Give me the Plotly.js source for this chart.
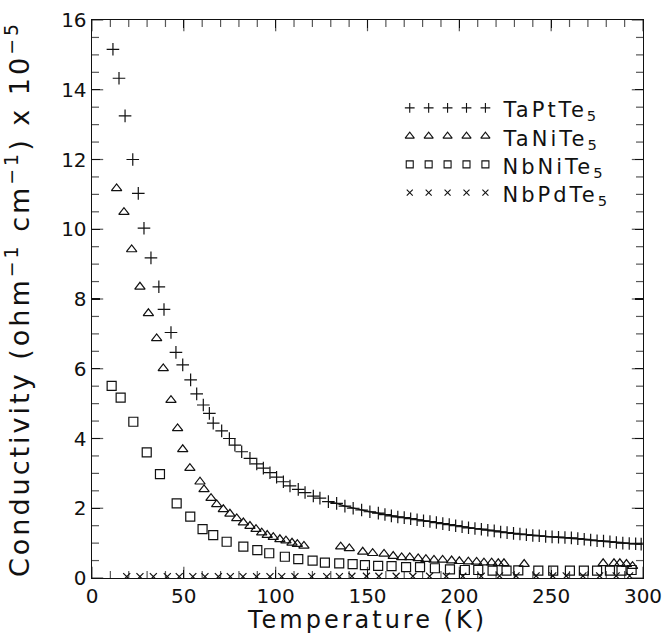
<!DOCTYPE html>
<html>
<head>
<meta charset="utf-8">
<script src="https://cdn.plot.ly/plotly-3.0.1.min.js"></script>
<style>
  html, body { margin: 0; padding: 0; background: #fff; }
  #chart { width: 666px; height: 634px; }
  #chart .xtitle, #chart .ytitle { letter-spacing: 3px; }
  #chart .annotation-text { letter-spacing: 3px; }
</style>
</head>
<body>
<div id="chart"></div>
<script>
// ---------------- DATA ----------------
const seriesNames = ["TaPtTe<sub>5</sub>", "TaNiTe<sub>5</sub>", "NbNiTe<sub>5</sub>", "NbPdTe<sub>5</sub>"];

const taPtTe5_T = [11.4, 14.7, 18.0, 22.2, 25.2, 28.3, 32.1, 36.4, 39.2, 43.0, 45.7, 49.4, 53.7, 57.0, 60.6, 63.9, 66.0, 70.6, 74.8, 77.8,
  81.5, 86.0, 89.7, 93.3, 96.9, 100.5, 104.2, 107.8, 112.3, 116.0, 120.5, 124.1, 128.7, 133.2, 137.7, 142.2, 146.8, 151.3, 155.9,
  159.5, 163.0, 166.5, 170.0, 173.5, 177.0, 180.5, 184.0, 187.5, 191.0, 194.5, 198.0, 201.5, 205.0, 208.5, 212.0, 215.5, 219.0,
  222.5, 226.0, 229.5, 233.0, 236.5, 240.0, 243.5, 247.0, 250.5, 254.0, 257.5, 261.0, 264.5, 268.0, 271.5, 275.0, 278.5, 282.0,
  285.5, 289.0, 292.5, 296.0, 299.0];
const taPtTe5_S = [15.16, 14.33, 13.25, 12.0, 11.03, 10.03, 9.18, 8.35, 7.70, 7.04, 6.47, 6.11, 5.68, 5.28, 4.96, 4.72, 4.44, 4.22, 4.00, 3.81,
  3.62, 3.43, 3.27, 3.15, 3.02, 2.89, 2.76, 2.64, 2.54, 2.45, 2.35, 2.29, 2.19, 2.14, 2.06, 2.00, 1.95, 1.90, 1.86,
  1.82, 1.78, 1.75, 1.73, 1.70, 1.67, 1.64, 1.62, 1.59, 1.56, 1.53, 1.50, 1.47, 1.44, 1.42, 1.40, 1.37, 1.35,
  1.32, 1.30, 1.28, 1.26, 1.24, 1.22, 1.21, 1.19, 1.18, 1.17, 1.16, 1.15, 1.13, 1.11, 1.09, 1.07, 1.06, 1.04,
  1.02, 1.00, 0.99, 0.98, 0.97];

const taNiTe5_T = [13.4, 17.4, 21.6, 26.1, 30.7, 35.2, 38.8, 43.0, 46.6, 49.4, 53.3, 58.8, 61.0, 64.8, 67.9, 71.5, 75.1, 78.8, 82.4, 86.0,
  89.3, 92.4, 95.4, 98.7, 102.3, 105.6, 108.9, 111.8, 115.4, 135.4, 140.1, 147.4, 152.8, 159.0, 164.0, 168.6, 173.0, 177.6, 181.8,
  186.2, 190.9, 195.8, 200.0, 204.9, 209.4, 213.4, 217.6, 221.2, 224.3, 235.3, 278.3, 284.2, 287.4, 291.0, 294.3];
const taNiTe5_S = [11.17, 10.49, 9.42, 8.35, 7.59, 6.87, 6.01, 5.10, 4.29, 3.69, 3.15, 2.76, 2.54, 2.29, 2.11, 1.97, 1.84, 1.71, 1.59, 1.49,
  1.40, 1.30, 1.23, 1.17, 1.11, 1.07, 1.01, 0.97, 0.92, 0.90, 0.85, 0.75, 0.71, 0.69, 0.63, 0.59, 0.59, 0.56, 0.54,
  0.52, 0.52, 0.50, 0.48, 0.47, 0.46, 0.44, 0.44, 0.42, 0.42, 0.40, 0.42, 0.42, 0.42, 0.40, 0.34];

const nbNiTe5_T = [10.7, 15.6, 22.5, 29.8, 37.0, 46.1, 53.5, 60.2, 66.0, 73.3, 82.4, 90.0, 96.5, 105.0, 112.3, 120.1, 126.8, 134.6, 141.9,
  148.6, 155.8, 163.1, 171.0, 178.6, 186.7, 194.9, 203.0, 210.3, 218.1, 225.7, 232.1, 243.0, 251.1, 260.2, 267.8, 275.0, 282.0, 288.3, 293.8];
const nbNiTe5_S = [5.51, 5.17, 4.48, 3.60, 2.98, 2.14, 1.76, 1.40, 1.23, 1.04, 0.90, 0.80, 0.71, 0.61, 0.54, 0.50, 0.44, 0.42, 0.40,
  0.37, 0.35, 0.34, 0.31, 0.31, 0.28, 0.25, 0.23, 0.23, 0.21, 0.21, 0.22, 0.21, 0.21, 0.21, 0.21, 0.21, 0.21, 0.21, 0.23];

const nbPdTe5_T = [18.9, 26.1, 33.4, 41.0, 47.5, 54.9, 61.5, 68.8, 75.3, 82.2, 89.6, 96.9, 103.3, 110.5, 119.6, 127.8, 134.7, 141.5,
  149.4, 156.2, 165.6, 174.7, 183.8, 192.9, 201.9, 211.9, 221.9, 230.9, 241.8, 250.9, 258.2, 267.3, 276.4, 285.4, 292.7];
const nbPdTe5_S = [0.04, 0.04, 0.04, 0.04, 0.04, 0.04, 0.04, 0.04, 0.04, 0.04, 0.04, 0.04, 0.04, 0.04, 0.04, 0.04, 0.04, 0.05,
  0.05, 0.05, 0.05, 0.05, 0.05, 0.05, 0.05, 0.05, 0.06, 0.06, 0.06, 0.06, 0.06, 0.06, 0.06, 0.06, 0.06];

const xTickVals = [0, 50, 100, 150, 200, 250, 300];
const yTickVals = [0, 2, 4, 6, 8, 10, 12, 14, 16];
const xMinorStep = 10, yMinorStep = 0.5;

// ---------------- STYLE / LAYOUT CONSTANTS ----------------
const FONT = "DejaVu Sans, Liberation Sans, sans-serif";
const INK = "#111";
const symbols = ["cross-thin-open", "triangle-up-open", "square-open", "x-thin-open"];
const dataSizes = [9, 9, 9, 7];
const legSizes = [7, 8, 7, 6];
const X_MIN = 0, X_MAX = 300, Y_MIN = 0, Y_MAX = 16;
const W = 666, H = 634, M = { l: 92, r: 23, t: 20, b: 56 };
const MAJOR_LEN = 8, MINOR_LEN = 5;   // inward tick lengths in pixels

function markerTrace(x, y, i) {
  return {
    x: x, y: y, type: "scatter", mode: "markers", showlegend: false, hoverinfo: "skip",
    marker: { symbol: symbols[i], size: dataSizes[i], color: INK, line: { color: INK, width: 1.2 } }
  };
}

const traces = [];

// inward tick marks on the four sides, drawn as line markers centred on the axis
// (the outer half is clipped by the plot area, leaving an inward tick)
function tickMarks(xs, ys, sym, sizes) {
  return {
    x: xs, y: ys, type: "scatter", mode: "markers", showlegend: false, hoverinfo: "skip", cliponaxis: true,
    marker: { symbol: sym, size: sizes, color: INK, line: { color: INK, width: 1.2 } }
  };
}
{
  const xs = [], ys = [], sz = [];
  for (let k = 0; k <= Math.round((X_MAX - X_MIN) / xMinorStep); k++) {
    const v = X_MIN + k * xMinorStep;
    const s = 2 * (xTickVals.indexOf(v) >= 0 ? MAJOR_LEN : MINOR_LEN);
    xs.push(v, v); ys.push(Y_MIN, Y_MAX); sz.push(s, s);
  }
  traces.push(tickMarks(xs, ys, "line-ns-open", sz));
  const xs2 = [], ys2 = [], sz2 = [];
  for (let k = 0; k <= Math.round((Y_MAX - Y_MIN) / yMinorStep); k++) {
    const v = Y_MIN + k * yMinorStep;
    const s = 2 * (yTickVals.indexOf(v) >= 0 ? MAJOR_LEN : MINOR_LEN);
    xs2.push(X_MIN, X_MAX); ys2.push(v, v); sz2.push(s, s);
  }
  traces.push(tickMarks(xs2, ys2, "line-ew-open", sz2));
}

traces.push(
  markerTrace(taPtTe5_T, taPtTe5_S, 0),
  markerTrace(taNiTe5_T, taNiTe5_S, 1),
  markerTrace(nbNiTe5_T, nbNiTe5_S, 2),
  markerTrace(nbPdTe5_T, nbPdTe5_S, 3)
);

// dense-run line through the TaPtTe5 points above ~128 K
const lineIdx = taPtTe5_T.map((t, k) => k).filter(k => taPtTe5_T[k] >= 128);
traces.push({
  x: lineIdx.map(k => taPtTe5_T[k]), y: lineIdx.map(k => taPtTe5_S[k]),
  type: "scatter", mode: "lines", showlegend: false, hoverinfo: "skip",
  line: { color: INK, width: 1.4 }
});

// in-plot legend: five marks per row (layout positions in axis units)
const legT0 = 173, legDT = 10.3, legS0 = 13.48, legDS = 0.81, legTextT = 228;
const annotations = [];
for (let i = 0; i < 4; i++) {
  const xs = [], ys = [];
  for (let j = 0; j < 5; j++) { xs.push(legT0 + j * legDT); ys.push(legS0 - i * legDS); }
  traces.push({
    x: xs, y: ys, type: "scatter", mode: "markers",
    showlegend: false, hoverinfo: "skip",
    marker: { symbol: symbols[i], size: legSizes[i], color: INK, line: { color: INK, width: 1.1 } }
  });
  annotations.push({
    xref: "x", yref: "y", x: legTextT, y: legS0 - i * legDS - 0.1,
    xanchor: "left", yanchor: "middle", showarrow: false,
    text: seriesNames[i], font: { family: FONT, size: 21, color: INK }
  });
}

const axisCommon = {
  showgrid: false, zeroline: false, showline: true, linecolor: INK, linewidth: 1.4,
  mirror: "ticks", ticks: "inside", tickcolor: INK, tickwidth: 1.1, ticklen: MAJOR_LEN,
  tickfont: { family: FONT, size: 20, color: INK }
};

const layout = {
  width: W, height: H,
  margin: M,
  showlegend: false,
  xaxis: Object.assign({}, axisCommon, {
    range: [X_MIN, X_MAX], tickmode: "array", tickvals: xTickVals,
    title: { text: "Temperature (K)", font: { family: FONT, size: 24, color: INK } }
  }),
  yaxis: Object.assign({}, axisCommon, {
    range: [Y_MIN, Y_MAX], tickmode: "array", tickvals: yTickVals,
    title: { text: "Conductivity (ohm<sup>−1</sup> cm<sup>−1</sup>) x 10<sup>−5</sup>", font: { family: FONT, size: 27, color: INK } }
  }),
  annotations: annotations
};

Plotly.newPlot("chart", traces, layout, { staticPlot: true, displayModeBar: false });
</script>
</body>
</html>
